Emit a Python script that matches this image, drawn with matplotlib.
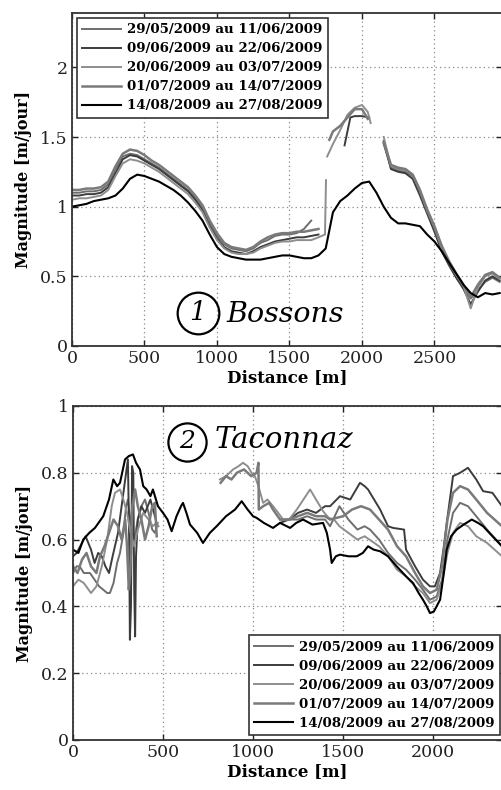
import numpy as np
from matplotlib import pyplot as plt
from matplotlib.ticker import FuncFormatter

nan = np.nan

labels = ["29/05/2009 au 11/06/2009", "09/06/2009 au 22/06/2009",
          "20/06/2009 au 03/07/2009", "01/07/2009 au 14/07/2009",
          "14/08/2009 au 27/08/2009"]
colors = ['#6e6e6e', '#3c3c3c', '#8e8e8e', '#7a7a7a', '#000000']
widths = [1.4, 1.4, 1.4, 1.8, 1.5]

# ---- Bossons (top panel) ----
grid50 = list(range(0, 3000, 50))

b1_d = list(range(0, 1700, 50)) + [1675] + list(range(2150, 3000, 50))
b1_v = [1.10, 1.10, 1.11, 1.11, 1.12, 1.16, 1.27, 1.36, 1.38, 1.37, 1.34, 1.31,
        1.28, 1.24, 1.20, 1.16, 1.12, 1.06, 0.99, 0.88, 0.79, 0.73, 0.70, 0.69,
        0.68, 0.70, 0.74, 0.76, 0.79, 0.80, 0.80, 0.81, 0.84, 0.90, nan,
        1.45, 1.28, 1.26, 1.25, 1.22, 1.10, 0.96, 0.84, 0.69, 0.59, 0.50, 0.42,
        0.34, 0.40, 0.46, 0.49, 0.46]

b2_d = list(range(0, 1750, 50)) + [1720, 1880, 1920, 1950, 2000, 2050, 2100] + list(range(2150, 3000, 50))
b2_v = [1.08, 1.08, 1.09, 1.09, 1.10, 1.14, 1.24, 1.34, 1.37, 1.36, 1.33, 1.30,
        1.27, 1.23, 1.19, 1.15, 1.11, 1.05, 0.97, 0.86, 0.77, 0.71, 0.68, 0.67,
        0.66, 0.68, 0.71, 0.73, 0.75, 0.76, 0.77, 0.78, 0.78, 0.79, 0.80, nan,
        1.44, 1.64, 1.65, 1.65, 1.64, nan,
        1.47, 1.27, 1.25, 1.24, 1.20, 1.08, 0.95, 0.82, 0.68, 0.58, 0.49, 0.41,
        0.30, 0.39, 0.47, 0.50, 0.47]

b3_d = list(range(0, 1750, 50)) + [1745, 1752, 1756, 1760, 1800, 1850, 1900, 1950, 2000, 2040, 2060, 2100] + list(range(2150, 3000, 50))
b3_v = [1.05, 1.06, 1.06, 1.07, 1.08, 1.12, 1.22, 1.31, 1.34, 1.33, 1.31, 1.28,
        1.25, 1.21, 1.17, 1.13, 1.09, 1.03, 0.96, 0.85, 0.76, 0.70, 0.67, 0.66,
        0.66, 0.67, 0.70, 0.72, 0.74, 0.75, 0.75, 0.76, 0.76, 0.76, 0.78,
        0.80, 1.19, nan, 1.36, 1.45, 1.55, 1.66, 1.71, 1.73, 1.68, 1.60, nan,
        1.50, 1.29, 1.27, 1.26, 1.23, 1.11, 0.97, 0.85, 0.70, 0.60, 0.51, 0.43,
        0.27, 0.42, 0.50, 0.52, 0.48]

b4_d = list(range(0, 1750, 50)) + [1740, 1775, 1800, 1850, 1900, 1950, 2000, 2040, 2100] + list(range(2150, 3000, 50))
b4_v = [1.12, 1.12, 1.13, 1.13, 1.14, 1.18, 1.29, 1.38, 1.41, 1.40, 1.37, 1.33,
        1.30, 1.26, 1.22, 1.18, 1.14, 1.08, 1.01, 0.90, 0.81, 0.74, 0.71, 0.70,
        0.69, 0.71, 0.75, 0.78, 0.80, 0.81, 0.81, 0.82, 0.82, 0.83, 0.84,
        nan, 1.48, 1.54, 1.58, 1.64, 1.70, 1.70, 1.63, nan,
        1.46, 1.30, 1.28, 1.27, 1.23, 1.12, 0.98, 0.86, 0.72, 0.61, 0.52, 0.44,
        0.35, 0.44, 0.51, 0.53, 0.49]

b5_d = grid50
b5_v = [1.00, 1.01, 1.02, 1.04, 1.05, 1.06, 1.08, 1.13, 1.20, 1.23, 1.22, 1.20,
        1.18, 1.15, 1.12, 1.08, 1.03, 0.97, 0.90, 0.80, 0.71, 0.66, 0.64, 0.63,
        0.62, 0.62, 0.62, 0.63, 0.64, 0.65, 0.65, 0.64, 0.63, 0.63, 0.65, 0.70,
        0.96, 1.04, 1.08, 1.13, 1.17, 1.18, 1.10, 1.00, 0.92, 0.88, 0.88, 0.87,
        0.86, 0.80, 0.75, 0.68, 0.60, 0.52, 0.44, 0.38, 0.35, 0.38, 0.37, 0.38]

# ---- Taconnaz (bottom panel) ----
t1_d = [0, 20, 37, 60, 94, 120, 145, 168, 190, 205, 225, 245, 261, 280, 295,
        305, 320, 340, 360, 380, 400, 420, 440, 455, 470, 600,
        1150, 1200, 1250, 1300, 1350, 1400, 1428, 1480, 1530, 1580, 1620, 1650,
        1700, 1750, 1800, 1850, 1900, 1944, 1983, 2020, 2050, 2080, 2111, 2150,
        2194, 2240, 2300, 2383]
t1_v = [0.50, 0.52, 0.52, 0.50, 0.50, 0.48, 0.46, 0.45, 0.44, 0.44, 0.47, 0.53,
        0.56, 0.62, 0.70, 0.72, 0.65, 0.60, 0.66, 0.70, 0.72, 0.68, 0.63, 0.62,
        0.65, nan,
        0.66, 0.66, 0.66, 0.67, 0.66, 0.66, 0.64, 0.70, 0.66, 0.63, 0.64, 0.63,
        0.60, 0.56, 0.53, 0.51, 0.48, 0.45, 0.42, 0.43, 0.48, 0.60, 0.68, 0.71,
        0.70, 0.67, 0.63, 0.58]

t2_d = [0, 20, 40, 70, 100, 120, 140, 160, 180, 200, 220, 250, 270, 290, 305,
        312, 316, 322, 328, 335, 340, 345, 350, 360, 380, 400, 430, 460, 600,
        1150, 1200, 1250, 1300, 1350, 1400, 1428, 1483, 1540, 1594, 1620, 1639,
        1706, 1750, 1778, 1839, 1850, 1900, 1944, 1983, 2010, 2039, 2060, 2076,
        2111, 2150, 2194, 2240, 2278, 2330, 2383]
t2_v = [0.55, 0.56, 0.58, 0.61, 0.57, 0.53, 0.56, 0.55, 0.52, 0.50, 0.55, 0.62,
        0.70, 0.78, 0.84, 0.60, 0.30, 0.40, 0.82, 0.80, 0.45, 0.31, 0.55, 0.66,
        0.70, 0.68, 0.72, 0.66, nan,
        0.65, 0.66, 0.68, 0.69, 0.68, 0.70, 0.70, 0.73, 0.72, 0.77, 0.76, 0.75,
        0.69, 0.64, 0.635, 0.63, 0.57, 0.52, 0.48, 0.46, 0.46, 0.50, 0.58, 0.65,
        0.79, 0.80, 0.815, 0.78, 0.745, 0.74, 0.70]

t3_d = [0, 30, 60, 100, 130, 160, 190, 215, 233, 261, 280, 300, 320, 340, 360,
        390, 420, 444, 463, 475, 600,
        816, 850, 889, 920, 944, 970, 992, 1010, 1030, 1056, 1080, 1111, 1140,
        1167, 1200, 1243, 1280, 1317, 1350, 1389, 1420, 1450, 1480, 1530, 1580,
        1620, 1700, 1750, 1800, 1850, 1900, 1944, 1983, 2020, 2050, 2080, 2111,
        2150, 2194, 2240, 2300, 2383]
t3_v = [0.46, 0.48, 0.47, 0.44, 0.46, 0.52, 0.60, 0.70, 0.74, 0.75, 0.72, 0.68,
        0.62, 0.58, 0.63, 0.68, 0.66, 0.64, 0.65, 0.64, nan,
        0.78, 0.79, 0.81, 0.82, 0.83, 0.82, 0.80, 0.79, 0.76, 0.71, 0.72, 0.70,
        0.68, 0.66, 0.66, 0.69, 0.72, 0.75, 0.72, 0.685, 0.665, 0.66, 0.64, 0.62,
        0.60, 0.61, 0.58, 0.55, 0.51, 0.49, 0.46, 0.44, 0.41, 0.42, 0.47, 0.56,
        0.62, 0.65, 0.64, 0.61, 0.59, 0.55]

t4_d = [0, 25, 50, 75, 100, 130, 150, 175, 200, 225, 250, 270, 290, 300, 310,
        318, 330, 345, 360, 380, 400, 420, 440, 455, 465, 600,
        820, 850, 880, 910, 950, 990, 1020, 1030, 1032, 1056, 1090, 1111, 1150,
        1200, 1250, 1300, 1350, 1400, 1428, 1500, 1550, 1600, 1650, 1700, 1750,
        1800, 1850, 1900, 1944, 1983, 2020, 2050, 2080, 2111, 2150, 2194, 2240,
        2300, 2383]
t4_v = [0.52, 0.50, 0.54, 0.56, 0.52, 0.50, 0.55, 0.58, 0.62, 0.66, 0.64, 0.60,
        0.66, 0.58, 0.45, 0.50, 0.70, 0.75, 0.70, 0.66, 0.60, 0.64, 0.70, 0.71,
        0.61, nan,
        0.77, 0.79, 0.78, 0.80, 0.81, 0.79, 0.80, 0.83, 0.69, 0.70, 0.71, 0.69,
        0.66, 0.66, 0.67, 0.68, 0.67, 0.67, 0.66, 0.67, 0.69, 0.70, 0.69, 0.66,
        0.63, 0.58, 0.55, 0.50, 0.46, 0.44, 0.45, 0.52, 0.66, 0.74, 0.76, 0.75,
        0.72, 0.68, 0.64]

t5_d = [0, 30, 57, 90, 122, 168, 200, 224, 245, 261, 289, 310, 333, 350, 372,
        390, 409, 430, 444, 472, 500, 525, 548, 575, 600, 611, 630, 650, 690,
        722, 760, 798, 850, 900, 937, 970, 1000, 1020, 1060, 1111, 1150, 1206,
        1240, 1278, 1330, 1389, 1410, 1428, 1437, 1460, 1483, 1530, 1576, 1610,
        1639, 1670, 1706, 1750, 1798, 1850, 1889, 1920, 1944, 1965, 1983, 2005,
        2039, 2060, 2076, 2100, 2131, 2170, 2215, 2250, 2278, 2330, 2383]
t5_v = [0.57, 0.56, 0.60, 0.62, 0.635, 0.67, 0.72, 0.78, 0.76, 0.77, 0.84, 0.85,
        0.855, 0.83, 0.81, 0.76, 0.75, 0.73, 0.75, 0.70, 0.68, 0.66, 0.625, 0.67,
        0.70, 0.71, 0.68, 0.645, 0.62, 0.59, 0.62, 0.64, 0.67, 0.69, 0.715, 0.69,
        0.67, 0.665, 0.65, 0.635, 0.65, 0.635, 0.65, 0.66, 0.645, 0.65, 0.62,
        0.57, 0.53, 0.55, 0.555, 0.55, 0.55, 0.56, 0.58, 0.57, 0.565, 0.55, 0.52,
        0.49, 0.47, 0.44, 0.42, 0.40, 0.38, 0.385, 0.42, 0.50, 0.57, 0.61, 0.63,
        0.645, 0.66, 0.65, 0.64, 0.61, 0.58]

top_series = [(b1_d, b1_v), (b2_d, b2_v), (b3_d, b3_v), (b4_d, b4_v), (b5_d, b5_v)]
bot_series = [(t1_d, t1_v), (t2_d, t2_v), (t3_d, t3_v), (t4_d, t4_v), (t5_d, t5_v)]

plt.rcParams['font.family'] = 'DejaVu Serif'

fig = plt.figure(figsize=(5.02, 7.9), dpi=100)
ax1 = fig.add_axes([72 / 502, 1 - 346 / 790, 430 / 502, 333 / 790])
ax2 = fig.add_axes([73 / 502, 1 - 740 / 790, 429 / 502, 334 / 790])

fmt = FuncFormatter(lambda v, p: '%g' % v)


def style(ax, xmax, ymax, yticks, xticks):
    ax.set_xlim(0, xmax)
    ax.set_ylim(0, ymax)
    ax.set_xticks(xticks)
    ax.set_yticks(yticks)
    ax.xaxis.set_major_formatter(fmt)
    ax.yaxis.set_major_formatter(fmt)
    ax.grid(True, color='#8a8a8a', linestyle=(0, (1, 2.5)), linewidth=0.9)
    ax.tick_params(direction='in', length=4, top=True, right=True, labelsize=12.5,
                   width=1, colors='#222222', pad=3)
    for s in ['left', 'bottom', 'top']:
        ax.spines[s].set_linewidth(1.3)
        ax.spines[s].set_color('#333333')
    ax.spines['right'].set_visible(False)
    ax.set_xlabel('Distance [m]', fontsize=12, fontweight='bold', labelpad=1)
    ax.set_ylabel('Magnitude [m/jour]', fontsize=11.5, fontweight='bold', labelpad=6)


for (d, v), c, w, lab in zip(top_series, colors, widths, labels):
    ax1.plot(d, v, color=c, lw=w, label=lab)
for (d, v), c, w, lab in zip(bot_series, colors, widths, labels):
    ax2.plot(d, v, color=c, lw=w, label=lab)

style(ax1, 2966, 2.39, [0, 0.5, 1, 1.5, 2], [0, 500, 1000, 1500, 2000, 2500])
style(ax2, 2383, 1.0, [0, 0.2, 0.4, 0.6, 0.8, 1], [0, 500, 1000, 1500, 2000])

leg_kw = dict(prop={'weight': 'bold', 'size': 9.6}, frameon=True, fancybox=False,
              edgecolor='#333333', framealpha=1, handlelength=2.9,
              handletextpad=0.45, labelspacing=0.45, borderpad=0.4, borderaxespad=0)
l1 = ax1.legend(loc='upper left', bbox_to_anchor=(5 / 430, 1 - 5 / 333), **leg_kw)
l2 = ax2.legend(loc='lower right', bbox_to_anchor=(1 - 2 / 429, 5 / 334), **leg_kw)
for lg in (l1, l2):
    lg.get_frame().set_linewidth(1.2)

# glacier names
ax1.plot((198 - 72) / 430, (346 - 313) / 333, 'o', ms=30, mfc='none', mec='k',
         mew=1.6, transform=ax1.transAxes, clip_on=False)
ax1.text((198 - 72) / 430, (346 - 313) / 333, '1', transform=ax1.transAxes,
         ha='center', va='center', fontsize=19, style='italic')
ax1.text((226 - 72) / 430, (346 - 322) / 333, 'Bossons', transform=ax1.transAxes,
         ha='left', va='baseline', fontsize=20.5, style='italic')

ax2.plot((187 - 73) / 429, (740 - 442) / 334, 'o', ms=27.5, mfc='none', mec='k',
         mew=1.6, transform=ax2.transAxes, clip_on=False)
ax2.text((187 - 73) / 429, (740 - 442) / 334, '2', transform=ax2.transAxes,
         ha='center', va='center', fontsize=18, style='italic')
ax2.text((215 - 73) / 429, (740 - 448) / 334, 'Taconnaz', transform=ax2.transAxes,
         ha='left', va='baseline', fontsize=21, style='italic')

fig.savefig('out.png', dpi=100)
